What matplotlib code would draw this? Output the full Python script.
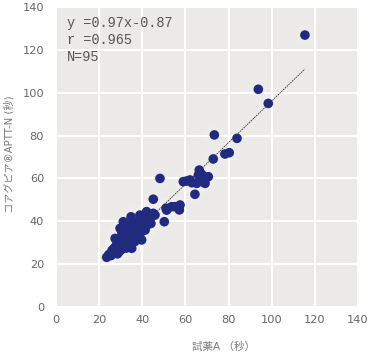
import matplotlib
matplotlib.use('Agg')
import matplotlib.pyplot as plt
from matplotlib import font_manager
import numpy as np

# Data (reagent A vs Coagpia APTT-N, seconds)
x_vals = [115.4, 93.8, 98.4, 73.4, 83.9, 72.9, 78.3, 80.3, 66.4, 48.2,
          59.0, 60.5, 62.1, 64.4, 66.0, 66.8, 67.5, 68.3, 69.1, 70.6,
          65.2, 69.1, 67.5, 63.0,
          45.1, 57.5, 57.2, 53.6, 55.2, 51.0, 51.3, 50.2, 45.9, 45.1,
          42.0, 42.0, 43.5, 40.5, 44.0,
          23.5, 24.5, 25.5, 26.0, 26.5, 27.0, 27.5, 28.0, 28.2, 28.5,
          29.0, 29.2, 29.5, 30.0, 30.0, 30.5, 30.5, 31.0, 31.2, 31.5,
          31.5, 32.0, 32.0, 32.5, 32.5, 33.0, 33.0, 33.5, 33.5, 34.0,
          34.8, 34.5, 35.0, 35.0, 35.5, 35.8, 36.0, 36.0, 36.5, 37.0,
          37.4, 37.5, 38.0, 38.5, 38.9, 39.0, 39.5, 39.7, 40.0, 40.5,
          41.3, 41.5, 42.5, 27.4, 29.7, 35.1]
y_vals = [126.9, 101.6, 95.0, 80.3, 78.7, 69.1, 71.4, 72.0, 63.9, 60.0,
          58.5, 58.8, 59.3, 52.6, 61.6, 59.3, 58.5, 60.8, 60.0, 60.8,
          57.7, 57.7, 62.0, 58.0,
          50.3, 47.6, 45.3, 46.8, 46.8, 46.1, 45.2, 39.8, 42.9, 43.7,
          44.5, 43.7, 41.0, 39.8, 39.0,
          23.2, 24.5, 24.0, 26.5, 25.0, 27.5, 25.5, 29.0, 26.5, 24.8,
          31.0, 28.0, 26.0, 32.5, 29.5, 27.0, 35.0, 31.0, 39.8, 28.5,
          33.5, 36.5, 30.0, 34.0, 27.5, 38.0, 31.5, 35.5, 29.5, 33.0,
          42.1, 37.0, 31.0, 34.5, 39.0, 39.8, 33.0, 36.0, 30.5, 38.0,
          38.3, 35.0, 32.0, 37.0, 42.9, 40.0, 35.0, 31.3, 37.5, 41.5,
          35.9, 39.0, 38.5, 32.0, 36.7, 27.4]

slope = 0.97
intercept = -0.87
stats_lines = ['y =0.97x-0.87', 'r =0.965', 'N=95']
ticks = [0, 20, 40, 60, 80, 100, 120, 140]

# look for a narrow sans face (the original uses a condensed font)
narrow_name = 'Noto Sans'
for f in font_manager.fontManager.ttflist:
    fn = f.fname.lower()
    if ('narrow' in fn or 'condensed' in fn) and 'bold' not in fn and 'oblique' not in fn \
            and 'italic' not in fn and 'mono' not in fn and 'serif' not in fn:
        narrow_name = font_manager.FontProperties(fname=f.fname).get_name()
        break
plt.rcParams['font.family'] = [narrow_name, 'Noto Sans CJK JP', 'DejaVu Sans']

fig = plt.figure(figsize=(3.7, 3.56), dpi=100)
ax = fig.add_axes([56 / 370, 1 - 307 / 356, 302 / 370, 300 / 356])
ax.set_facecolor('#ebeae8')
for s in ax.spines.values():
    s.set_visible(False)
ax.grid(True, color='white', linewidth=1.5)
ax.set_axisbelow(True)

# soft white glow behind the points
ax.scatter(x_vals, y_vals, s=260, color='white', alpha=0.07, edgecolors='none', zorder=2)
ax.scatter(x_vals, y_vals, s=48, color='#1f2a80', edgecolors='none', zorder=3)

# regression line
xl = np.array([min(x_vals), max(x_vals)])
ax.plot(xl, slope * xl + intercept, color='#333333', linewidth=0.6,
        linestyle=(0, (2, 1)), zorder=4)

ax.set_xlim(0, 140)
ax.set_ylim(0, 140)
ax.set_xticks(ticks)
ax.set_yticks(ticks)
ax.tick_params(length=0, labelsize=11, labelcolor='#666666')
ax.tick_params(axis='y', pad=8.5)
ax.tick_params(axis='x', pad=6)

ax.set_xlabel('試薬A （秒）', fontsize=8, color='#777777', va='center')
ax.xaxis.set_label_coords((223 - 56) / 302, -0.133)
ax.set_ylabel('コアグピア®APTT-N (秒)', fontsize=8, color='#777777', va='center')
ax.yaxis.set_label_coords(-0.154, (307 - 154) / 300)

stat_texts = []
for i, line in enumerate(stats_lines):
    t = ax.text(0.036, (307 - 23 - 17 * i) / 300, line, transform=ax.transAxes,
                family='Liberation Mono', fontsize=10, color='#555555', va='center')
    stat_texts.append(t)

# scale text sizes so their widths match the original
fig.canvas.draw()
r = fig.canvas.get_renderer()
w = ax.get_xticklabels()[-1].get_window_extent(r).width
ax.tick_params(labelsize=11 * 21.5 / w)
w = ax.xaxis.label.get_window_extent(r).width
ax.xaxis.label.set_fontsize(8 * 63 / w)
h = ax.yaxis.label.get_window_extent(r).height
ax.yaxis.label.set_fontsize(8 * 118 / h)
w = stat_texts[0].get_window_extent(r).width
for t in stat_texts:
    t.set_fontsize(10 * 107 / w)

fig.savefig('out.png', dpi=100)
